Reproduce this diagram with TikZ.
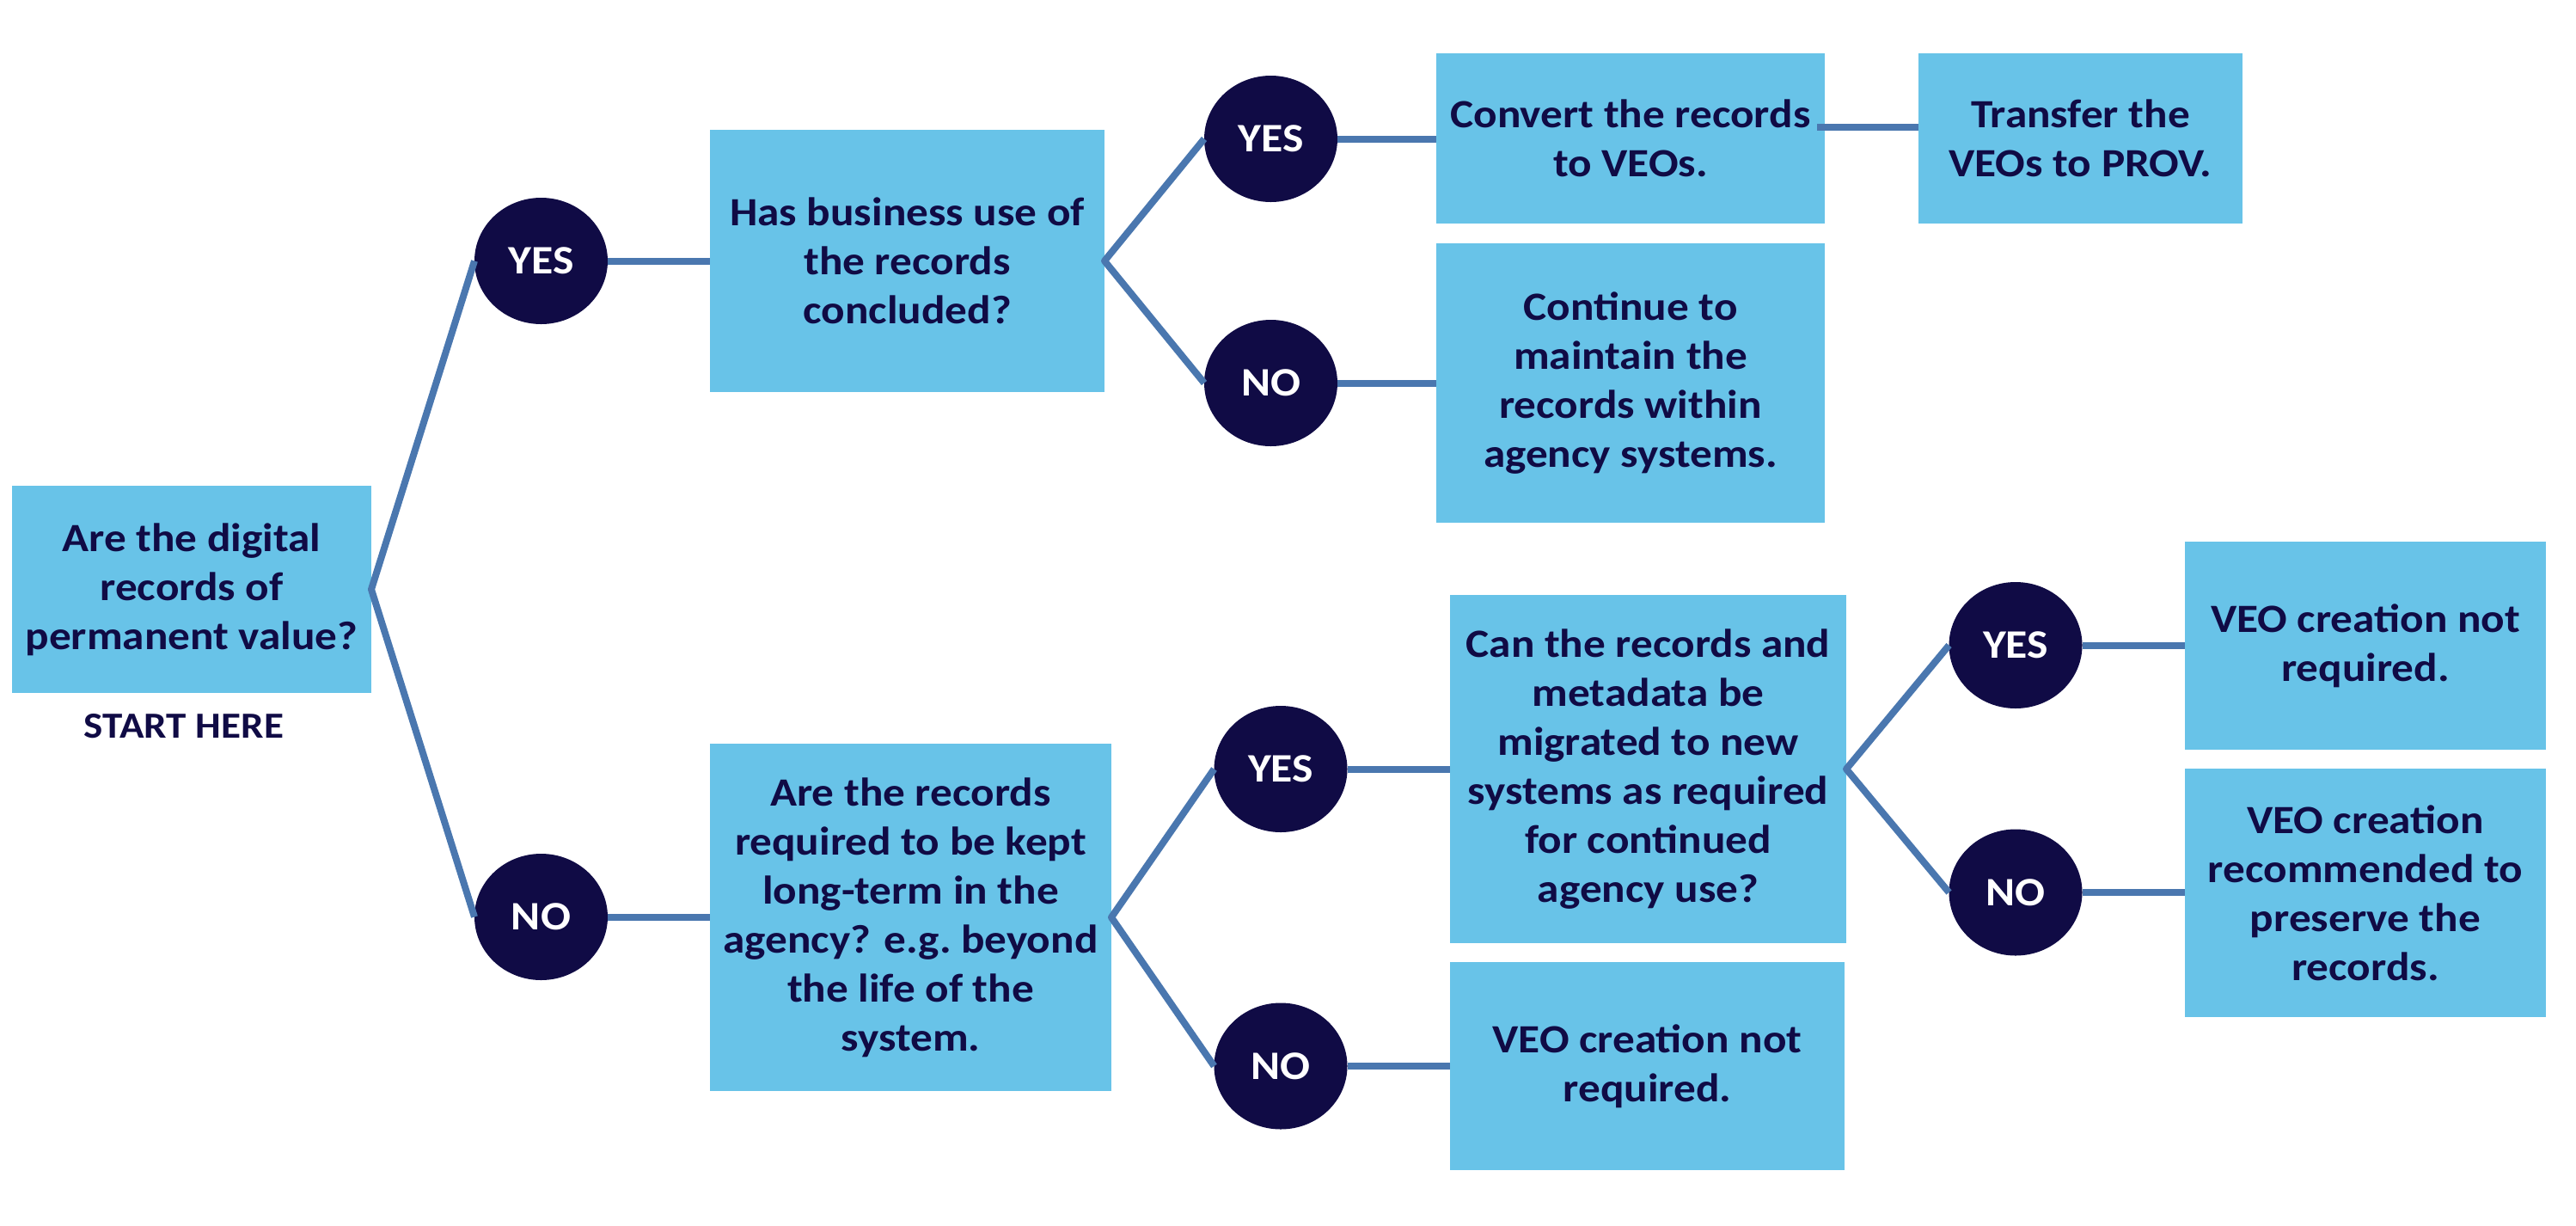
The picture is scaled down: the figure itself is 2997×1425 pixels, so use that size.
\documentclass[tikz,border=0pt]{standalone}
\usepackage{fontspec}
\setmainfont{Carlito}[FakeStretch=1.1]
\usetikzlibrary{shapes.geometric}
\definecolor{boxblue}{HTML}{68C3E8}
\definecolor{navy}{HTML}{100B45}
\definecolor{linkblue}{HTML}{4A77AF}
\tikzset{
 qbox/.style={rectangle, fill=boxblue, text=navy, font=\bfseries\fontsize{23.3}{28.5}\selectfont, align=center, inner sep=0pt, outer sep=0pt},
 ans/.style={ellipse, fill=navy, text=white, font=\bfseries\fontsize{23.5}{28}\selectfont, minimum width=77.5pt, minimum height=73.5pt, inner sep=0pt, outer sep=0pt},
 link/.style={draw=linkblue, line width=4pt, line join=round},
 starttext/.style={text=navy, font=\bfseries\fontsize{21.4}{24}\selectfont, inner sep=0pt},
}
\begin{document}
\begin{tikzpicture}[x=0.5pt,y=-0.5pt]
\useasboundingbox (0,0) rectangle (2997,1425);
% boxes
\node[qbox, minimum width=209pt, minimum height=120.5pt] (b1) at (223,685.5) {Are the digital\\records of\\permanent value?};
\node[starttext] (start) at (214,845) {START HERE};
\node[qbox, minimum width=229.5pt, minimum height=152.5pt] (b2) at (1055.5,303.5) {Has business use of\\the records\\concluded?};
\node[qbox, minimum width=226pt, minimum height=99pt] (b3) at (1897,161) {Convert the records\\to VEOs.};
\node[qbox, minimum width=188.5pt, minimum height=99pt] (b4) at (2420.5,161) {Transfer the\\VEOs to PROV.};
\node[qbox, minimum width=226pt, minimum height=162.5pt] (b5) at (1897,445.5) {Continue to\\maintain the\\records within\\agency systems.};
\node[qbox, minimum width=233.5pt, minimum height=202pt] (b6) at (1059.5,1067) {Are the records\\required to be kept\\long-term in the\\agency? e.g.\ beyond\\the life of the\\system.};
\node[qbox, minimum width=230.5pt, minimum height=202.5pt] (b7) at (1917.5,894.5) {Can the records and\\metadata be\\migrated to new\\systems as required\\for continued\\agency use?};
\node[qbox, minimum width=229.5pt, minimum height=121pt] (b8) at (1916.5,1240) {VEO creation not\\required.};
\node[qbox, minimum width=210pt, minimum height=121pt] (b9) at (2752,751) {VEO creation not\\required.};
\node[qbox, minimum width=210pt, minimum height=144.5pt] (b10) at (2752,1038.5) {VEO creation\\recommended to\\preserve the\\records.};
% answer circles
\node[ans] (y1) at (629.5,303.5) {YES};
\node[ans] (n1) at (629.5,1066.5) {NO};
\node[ans] (y2) at (1478.5,161.5) {YES};
\node[ans] (n2) at (1478.5,445.5) {NO};
\node[ans] (y3) at (1490,894.5) {YES};
\node[ans] (n3) at (1490,1240) {NO};
\node[ans] (y4) at (2345,750.5) {YES};
\node[ans] (n4) at (2345,1038) {NO};
% connectors
\draw[link] (y1.west) -- (b1.east) -- (n1.west);
\draw[link] (y1.east) -- (y1.east -| b2.west);
\draw[link] (n1.east) -- (n1.east -| b6.west);
\draw[link] (y2.west) -- (b2.east) -- (n2.west);
\draw[link] (y2.east) -- (y2.east -| b3.west);
\draw[link] (n2.east) -- (n2.east -| b5.west);
\coordinate (c34) at (2114,148);
\draw[link] (c34) -- (c34 -| b4.west);
\draw[link] (y3.west) -- (b6.east) -- (n3.west);
\draw[link] (y3.east) -- (y3.east -| b7.west);
\draw[link] (n3.east) -- (n3.east -| b8.west);
\draw[link] (y4.west) -- (b7.east) -- (n4.west);
\draw[link] (y4.east) -- (y4.east -| b9.west);
\draw[link] (n4.east) -- (n4.east -| b10.west);
\end{tikzpicture}
\end{document}
